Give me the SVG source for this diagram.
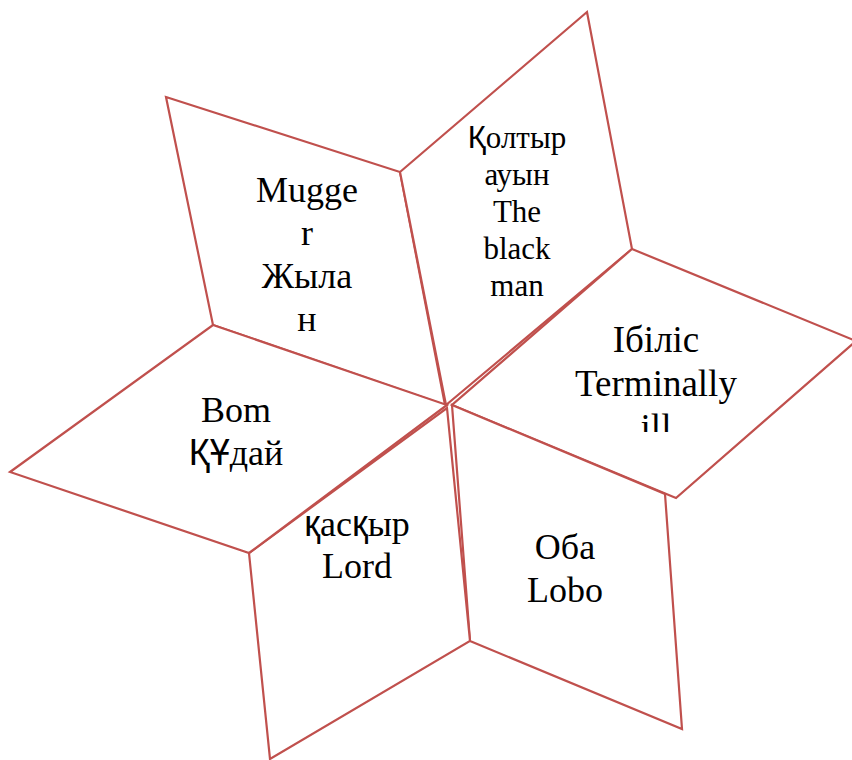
<svg xmlns="http://www.w3.org/2000/svg" width="852" height="760" viewBox="0 0 852 760">
<style>
.p{fill:#ffffff;stroke:#C0504D;stroke-width:2.2;stroke-linejoin:miter}
.t{font-family:"Liberation Serif","Times New Roman",serif;font-size:36px;fill:#000;text-anchor:middle}
.s{font-size:31px}
.b{font-size:37px}
.k{font-family:"Liberation Sans",Arial,sans-serif}
</style>
<defs>
<clipPath id="clipIll"><rect x="560" y="300" width="200" height="132"/></clipPath>
</defs>
<rect width="852" height="760" fill="#ffffff"/>
<g id="node-mugger">
<polygon class="p" points="166,97 400,172 445,405 213,325"/>
<text class="t" x="307" y="202">Mugge</text>
<text class="t" x="307" y="245">r</text>
<text class="t" x="307" y="288">Жыла</text>
<text class="t" x="307" y="331">н</text>
</g>
<g id="node-qoltyr">
<polygon class="p" points="400,172 587,12 632,249 446,405"/>
<text class="t s" x="517" y="148"><tspan class="k">Қ</tspan>олтыр</text>
<text class="t s" x="517" y="185">ауын</text>
<text class="t s" x="517" y="222">The</text>
<text class="t s" x="517" y="259">black</text>
<text class="t s" x="517" y="296">man</text>
</g>
<g id="node-ibilis">
<polygon class="p" points="632,249 856,341 676,498 452,405"/>
<text class="t b" x="656" y="352">Ібіліс</text>
<text class="t b" x="656" y="396">Terminally</text>
<text class="t b" x="656" y="440" clip-path="url(#clipIll)">ill</text>
</g>
<g id="node-oba">
<polygon class="p" points="452,405 665,494 682,729 470,641"/>
<text class="t" x="565" y="559">Оба</text>
<text class="t" x="565" y="602">Lobo</text>
</g>
<g id="node-lord">
<polygon class="p" points="447,408 470,641 270,759 249,553"/>
<text class="t" x="357" y="536"><tspan class="k">қ</tspan>ас<tspan class="k">қ</tspan>ыр</text>
<text class="t" x="357" y="578">Lord</text>
</g>
<g id="node-bom">
<polygon class="p" points="213,325 447,405 249,553 10,472"/>
<text class="t" x="236" y="422">Bom</text>
<text class="t" x="236" y="465"><tspan class="k">ҚҰ</tspan>дай</text>
</g>
<g id="connectors"/>
</svg>
